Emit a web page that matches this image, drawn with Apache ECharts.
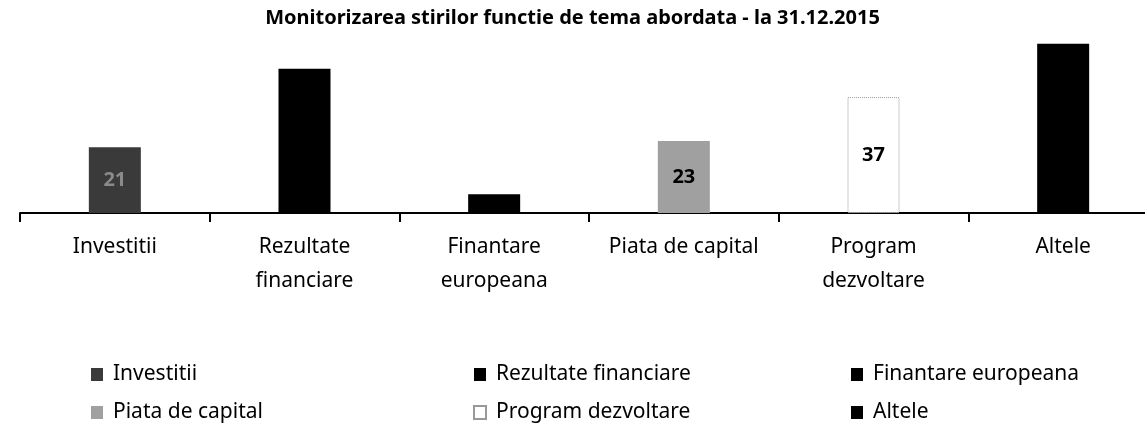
<!DOCTYPE html>
<html lang="en">
  <head>
    <meta charset="UTF-8" />
    <title>Monitorizarea stirilor</title>
    <style>
      html, body { margin: 0; padding: 0; background: #fff; }
      #main { width: 1145px; height: 428px; }
    </style>
  </head>
  <body>
    <div id="main"></div>
    <script src="https://cdn.jsdelivr.net/npm/echarts@6/dist/echarts.min.js"></script>
    <script>
      // date
      var categories = ["Investitii", "Rezultate financiare", "Finantare europeana", "Piata de capital", "Program dezvoltare", "Altele"];
      var tickLabels = ["Investitii", "Rezultate\nfinanciare", "Finantare\neuropeana", "Piata de capital", "Program\ndezvoltare", "Altele"];
      var values = [21, 46, 6, 23, 37, 54];

      var colors = ["#3a3a3a", "#000", "#000", "#a0a0a0", "#fff", "#000"];
      var labelColors = ["#8a8a8a", "#000", "#000", "#000", "#000", "#000"];

      var myChart = echarts.init(document.getElementById("main"));

      // o serie pe categorie, fiecare cu o singura valoare
      var series = categories.map(function (name, i) {
        var data = categories.map(function (c, j) {
          return j === i ? values[i] : "-";
        });
        return {
          name: name,
          type: "bar",
          data: data,
          barWidth: 52,
          barGap: "-100%",
          itemStyle: {
            color: colors[i],
            borderColor: i === 4 ? "#999" : colors[i],
            borderWidth: i === 4 ? 1 : 0,
            borderType: i === 4 ? "dotted" : "solid",
          },
          label: {
            show: true,
            position: "inside",
            color: labelColors[i],
            fontFamily: "Noto Sans",
            fontWeight: "bold",
            fontSize: 20,
          },
        };
      });

      // legenda pe trei coloane
      var legendCols = [
        [categories[0], categories[3]],
        [categories[1], categories[4]],
        [categories[2], categories[5]],
      ];
      var legendLeft = [91, 473, 851];
      var legends = legendCols.map(function (names, k) {
        return {
          data: names,
          orient: "vertical",
          left: legendLeft[k],
          top: 364,
          height: 64,
          padding: 0,
          itemWidth: 12,
          itemHeight: 13,
          itemGap: 17,
          icon: "rect",
          textStyle: {
            fontFamily: "Noto Sans",
            fontSize: 21,
            color: "#000",
            padding: [0, 0, 0, 5],
          },
        };
      });

      var option = {
        backgroundColor: "#fff",
        animation: false,
        title: {
          text: "Monitorizarea stirilor functie de tema abordata - la 31.12.2015",
          left: "center",
          top: 3,
          textStyle: {
            fontFamily: "Noto Sans",
            fontWeight: "bold",
            fontSize: 20,
            color: "#000",
          },
        },
        legend: legends,
        grid: {
          left: 20,
          width: 1138,
          top: 25,
          bottom: 215,
          outerBoundsMode: "none",
        },
        xAxis: {
          type: "category",
          data: categories,
          axisLine: { lineStyle: { color: "#000", width: 2 } },
          axisTick: { show: true, alignWithLabel: false, length: 9, lineStyle: { color: "#000", width: 2 } },
          axisLabel: {
            interval: 0,
            margin: 17,
            lineHeight: 34,
            fontFamily: "Noto Sans",
            fontSize: 21,
            color: "#000",
            formatter: function (v, i) {
              return tickLabels[i];
            },
          },
        },
        yAxis: {
          type: "value",
          min: 0,
          max: 60,
          show: false,
        },
        series: series,
      };

      myChart.setOption(option);
    </script>
  </body>
</html>
